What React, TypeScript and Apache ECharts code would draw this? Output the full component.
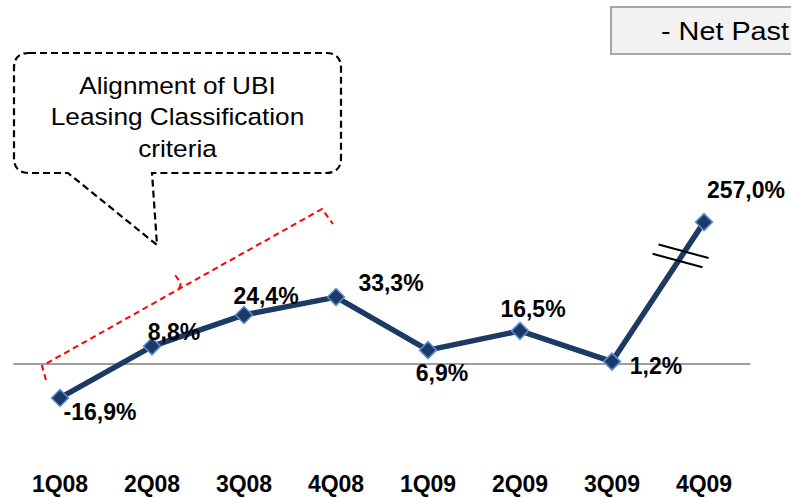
import React, { useEffect, useRef } from "react";
import * as echarts from "echarts";

// ---- data ----
const categories = ["1Q08", "2Q08", "3Q08", "4Q08", "1Q09", "2Q09", "3Q09", "4Q09"];
const values = [-16.9, 8.8, 24.4, 33.3, 6.9, 16.5, 1.2, 257.0];
const labelTexts = values.map((v) => v.toFixed(1).replace(".", ",") + "%");
const calloutLines = ["Alignment of UBI", "Leasing Classification", "criteria"];
const boxText = "- Net Past";
// y-axis break (compressed range of the value axis)
const axisBreak = { start: 60, end: 246.4 };

// ---- layout (not data) ----
const labelOffsets = [
  [40, 14],
  [22, -14],
  [22, -19],
  [55, -14],
  [14, 23],
  [13, -22],
  [44, 4],
  [42, -32],
];
const FONT = 'Arial, "Liberation Sans", Helvetica, sans-serif';

const CALLOUT_D =
  "M29 53 L326 53 Q341 53 341 68 L341 158 Q341 173 326 173 L152 173 L157 245 L68 173 L29 173 Q14 173 14 158 L14 68 Q14 53 29 53 Z";
const BRACKET_D = "M46 380 L42 366 L179 289 L322 209 L333 224 M179 289 L181 283 L175 275";

let registered = false;
function registerShapes() {
  if (registered) return;
  echarts.graphic.registerShape("callout", echarts.graphic.extendPath(CALLOUT_D, {}));
  echarts.graphic.registerShape("bracket", echarts.graphic.extendPath(BRACKET_D, {}));
  registered = true;
}

export default function App() {
  const ref = useRef<HTMLDivElement>(null);

  useEffect(() => {
    registerShapes();
    const chart = echarts.init(ref.current!, null, { renderer: "svg" });
    const option: any = {
      animation: false,
      backgroundColor: "#ffffff",
      grid: { left: 14, right: 41, top: 135.7, bottom: 52.6, containLabel: false, outerBoundsMode: "none" },
      xAxis: [
        {
          type: "category",
          data: categories,
          boundaryGap: true,
          axisLine: { show: false, onZero: false },
          axisTick: { show: false },
          splitLine: { show: false },
          axisLabel: {
            fontSize: 23,
            fontWeight: "bold",
            color: "#000",
            margin: 28,
            fontFamily: FONT,
          },
        },
        {
          type: "category",
          data: categories,
          position: "bottom",
          axisLine: { show: true, onZero: true, lineStyle: { color: "#7f7f7f", width: 1.5 } },
          axisTick: { show: false },
          axisLabel: { show: false },
          splitLine: { show: false },
        },
      ],
      yAxis: {
        type: "value",
        min: -40,
        max: 300,
        show: false,
        splitLine: { show: false },
        breaks: [{ start: axisBreak.start, end: axisBreak.end, gap: 0 }],
        breakArea: { show: false },
      },
      series: [
        {
          type: "line",
          xAxisIndex: 0,
          yAxisIndex: 0,
          data: values.map((v, i) => ({ value: v, label: { offset: labelOffsets[i] } })),
          symbol: "diamond",
          symbolSize: 17,
          lineStyle: { color: "#1c3a64", width: 5.5 },
          itemStyle: { color: "#1c3a64", borderColor: "#5b8ed6", borderWidth: 1.5 },
          label: {
            show: true,
            position: "inside",
            formatter: (p: any) => labelTexts[p.dataIndex],
            fontSize: 23,
            fontWeight: "bold",
            color: "#000",
            fontFamily: FONT,
            textBorderWidth: 0,
          },
          z: 3,
        },
      ],
    };
    chart.setOption(option);

    const pt = (i: number) => chart.convertToPixel({ seriesIndex: 0 }, [i, values[i]]) as number[];
    const a = pt(6);
    const b = pt(7);
    const slashes = [0.789, 0.723].map((t, k) => {
      const cx = a[0] + (b[0] - a[0]) * t;
      const cy = a[1] + (b[1] - a[1]) * t;
      return {
        type: "line",
        id: "slash" + k,
        z: 10,
        shape: { x1: cx - 26, y1: cy - 7, x2: cx + 24, y2: cy + 6.5 },
        style: { stroke: "#000", lineWidth: 2 },
      };
    });

    chart.setOption({
      graphic: {
        elements: [
          {
            type: "callout",
            id: "callout",
            x: 0,
            y: 0,
            z: 5,
            style: { fill: "rgba(255,255,255,0)", stroke: "#000", lineWidth: 2.2, lineDash: [7, 4] },
          },
          {
            type: "text",
            id: "calloutText",
            x: 177.5,
            y: 116.5,
            scaleX: 1.07,
            z: 6,
            style: {
              text: calloutLines.join("\n"),
              fontSize: 24.5,
              fontFamily: FONT,
              fill: "#000",
              align: "center",
              verticalAlign: "middle",
              lineHeight: 31.5,
            },
          },
          {
            type: "bracket",
            id: "bracket",
            x: 0,
            y: 0,
            z: 5,
            style: { fill: "none", stroke: "#ff0000", lineWidth: 2, lineDash: [6, 4] },
          },
          {
            type: "rect",
            id: "box",
            z: 5,
            shape: { x: 611, y: 7, width: 200, height: 47 },
            style: { fill: "#f2f2f2", stroke: "#a6a6a6", lineWidth: 2 },
          },
          {
            type: "text",
            id: "boxText",
            x: 661,
            y: 31,
            scaleX: 1.13,
            z: 6,
            style: {
              text: boxText,
              fontSize: 25.5,
              fontFamily: FONT,
              fill: "#000",
              align: "left",
              verticalAlign: "middle",
            },
          },
          ...slashes,
        ],
      },
    });

    return () => chart.dispose();
  }, []);

  return (
    <div
      ref={ref}
      style={{ position: "fixed", left: 0, top: 0, width: 791, height: 497 }}
    />
  );
}
